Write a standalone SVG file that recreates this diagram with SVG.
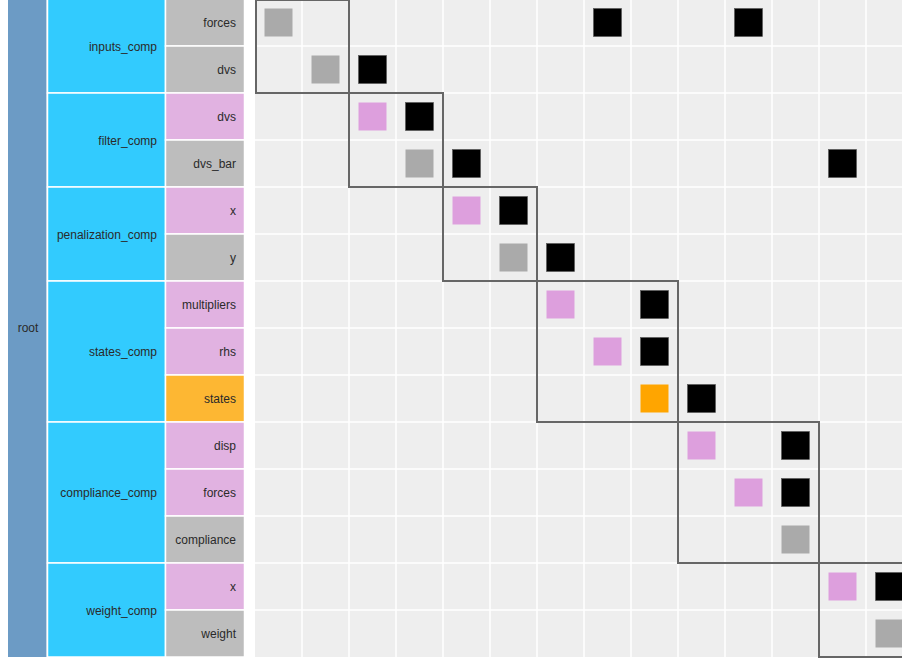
<svg xmlns="http://www.w3.org/2000/svg" width="902" height="659" viewBox="0 0 902 659">
<style>
text{font-family:"Liberation Sans",Arial,sans-serif;font-size:12px;fill:#2a2a2a}
.root{fill:#6c9bc5}
.comp{fill:#32cbfe;stroke:#ffffff;stroke-width:1.5}
.in{fill:#e1b2e1;stroke:#ffffff;stroke-width:1.5}
.out{fill:#bdbdbd;stroke:#ffffff;stroke-width:1.5}
.st{fill:#fdb733;stroke:#ffffff;stroke-width:1.5}
.cl{text-anchor:end}
.grid{stroke:#ffffff;stroke-width:1.5}
.box{fill:none;stroke:#666666;stroke-width:2}
.g{fill:#aaaaaa}
.p{fill:#dd9fdd}
.k{fill:#000000;stroke:#555555;stroke-width:0.6}
.o{fill:#ffa500}
</style>
<rect x="0" y="0" width="902" height="659" fill="#ffffff"/>
<g id="root">
<rect class="root" x="8" y="-1" width="38.5" height="658"/>
<text x="28" y="332" text-anchor="middle">root</text>
</g>
<g id="inputs_comp">
<rect class="comp" x="47.5" y="-1" width="118" height="94"/>
<text class="cl" x="157" y="50.5">inputs_comp</text>
</g>
<g id="filter_comp">
<rect class="comp" x="47.5" y="93" width="118" height="94"/>
<text class="cl" x="157" y="144.5">filter_comp</text>
</g>
<g id="penalization_comp">
<rect class="comp" x="47.5" y="187" width="118" height="94"/>
<text class="cl" x="157" y="238.5">penalization_comp</text>
</g>
<g id="states_comp">
<rect class="comp" x="47.5" y="281" width="118" height="141"/>
<text class="cl" x="157" y="356">states_comp</text>
</g>
<g id="compliance_comp">
<rect class="comp" x="47.5" y="422" width="118" height="141"/>
<text class="cl" x="157" y="497">compliance_comp</text>
</g>
<g id="weight_comp">
<rect class="comp" x="47.5" y="563" width="118" height="94"/>
<text class="cl" x="157" y="614.5">weight_comp</text>
</g>
<g id="inputs_comp.forces"><rect class="out" x="165.5" y="-1" width="79" height="47"/><text class="cl" x="236" y="27">forces</text></g>
<g id="inputs_comp.dvs"><rect class="out" x="165.5" y="46" width="79" height="47"/><text class="cl" x="236" y="74">dvs</text></g>
<g id="filter_comp.dvs"><rect class="in" x="165.5" y="93" width="79" height="47"/><text class="cl" x="236" y="121">dvs</text></g>
<g id="filter_comp.dvs_bar"><rect class="out" x="165.5" y="140" width="79" height="47"/><text class="cl" x="236" y="168">dvs_bar</text></g>
<g id="penalization_comp.x"><rect class="in" x="165.5" y="187" width="79" height="47"/><text class="cl" x="236" y="215">x</text></g>
<g id="penalization_comp.y"><rect class="out" x="165.5" y="234" width="79" height="47"/><text class="cl" x="236" y="262">y</text></g>
<g id="states_comp.multipliers"><rect class="in" x="165.5" y="281" width="79" height="47"/><text class="cl" x="236" y="309">multipliers</text></g>
<g id="states_comp.rhs"><rect class="in" x="165.5" y="328" width="79" height="47"/><text class="cl" x="236" y="356">rhs</text></g>
<g id="states_comp.states"><rect class="st" x="165.5" y="375" width="79" height="47"/><text class="cl" x="236" y="403">states</text></g>
<g id="compliance_comp.disp"><rect class="in" x="165.5" y="422" width="79" height="47"/><text class="cl" x="236" y="450">disp</text></g>
<g id="compliance_comp.forces"><rect class="in" x="165.5" y="469" width="79" height="47"/><text class="cl" x="236" y="497">forces</text></g>
<g id="compliance_comp.compliance"><rect class="out" x="165.5" y="516" width="79" height="47"/><text class="cl" x="236" y="544">compliance</text></g>
<g id="weight_comp.x"><rect class="in" x="165.5" y="563" width="79" height="47"/><text class="cl" x="236" y="591">x</text></g>
<g id="weight_comp.weight"><rect class="out" x="165.5" y="610" width="79" height="47"/><text class="cl" x="236" y="638">weight</text></g>
<g id="matrix">
<rect x="255" y="-1" width="647" height="658" fill="#eeeeee"/>
<g class="grid">
<line x1="302" y1="-1" x2="302" y2="657"/><line x1="349" y1="-1" x2="349" y2="657"/><line x1="396" y1="-1" x2="396" y2="657"/><line x1="443" y1="-1" x2="443" y2="657"/><line x1="490" y1="-1" x2="490" y2="657"/><line x1="537" y1="-1" x2="537" y2="657"/><line x1="584" y1="-1" x2="584" y2="657"/><line x1="631" y1="-1" x2="631" y2="657"/><line x1="678" y1="-1" x2="678" y2="657"/><line x1="725" y1="-1" x2="725" y2="657"/><line x1="772" y1="-1" x2="772" y2="657"/><line x1="819" y1="-1" x2="819" y2="657"/><line x1="866" y1="-1" x2="866" y2="657"/>
<line x1="255" y1="46" x2="902" y2="46"/><line x1="255" y1="93" x2="902" y2="93"/><line x1="255" y1="140" x2="902" y2="140"/><line x1="255" y1="187" x2="902" y2="187"/><line x1="255" y1="234" x2="902" y2="234"/><line x1="255" y1="281" x2="902" y2="281"/><line x1="255" y1="328" x2="902" y2="328"/><line x1="255" y1="375" x2="902" y2="375"/><line x1="255" y1="422" x2="902" y2="422"/><line x1="255" y1="469" x2="902" y2="469"/><line x1="255" y1="516" x2="902" y2="516"/><line x1="255" y1="563" x2="902" y2="563"/><line x1="255" y1="610" x2="902" y2="610"/>
</g>
</g>
<g id="connectors">
<rect class="g" x="264.5" y="8.5" width="28" height="28"/>
<rect class="k" x="593.5" y="8.5" width="28" height="28"/>
<rect class="k" x="734.5" y="8.5" width="28" height="28"/>
<rect class="g" x="311.5" y="55.5" width="28" height="28"/>
<rect class="k" x="358.5" y="55.5" width="28" height="28"/>
<rect class="p" x="358.5" y="102.5" width="28" height="28"/>
<rect class="k" x="405.5" y="102.5" width="28" height="28"/>
<rect class="g" x="405.5" y="149.5" width="28" height="28"/>
<rect class="k" x="452.5" y="149.5" width="28" height="28"/>
<rect class="k" x="828.5" y="149.5" width="28" height="28"/>
<rect class="p" x="452.5" y="196.5" width="28" height="28"/>
<rect class="k" x="499.5" y="196.5" width="28" height="28"/>
<rect class="g" x="499.5" y="243.5" width="28" height="28"/>
<rect class="k" x="546.5" y="243.5" width="28" height="28"/>
<rect class="p" x="546.5" y="290.5" width="28" height="28"/>
<rect class="k" x="640.5" y="290.5" width="28" height="28"/>
<rect class="p" x="593.5" y="337.5" width="28" height="28"/>
<rect class="k" x="640.5" y="337.5" width="28" height="28"/>
<rect class="o" x="640.5" y="384.5" width="28" height="28"/>
<rect class="k" x="687.5" y="384.5" width="28" height="28"/>
<rect class="p" x="687.5" y="431.5" width="28" height="28"/>
<rect class="k" x="781.5" y="431.5" width="28" height="28"/>
<rect class="p" x="734.5" y="478.5" width="28" height="28"/>
<rect class="k" x="781.5" y="478.5" width="28" height="28"/>
<rect class="g" x="781.5" y="525.5" width="28" height="28"/>
<rect class="p" x="828.5" y="572.5" width="28" height="28"/>
<rect class="k" x="875.5" y="572.5" width="28" height="28"/>
<rect class="g" x="875.5" y="619.5" width="28" height="28"/>
</g>
<g id="groups">
<rect class="box" x="256" y="0" width="93" height="93"/>
<rect class="box" x="349" y="93" width="94" height="94"/>
<rect class="box" x="443" y="187" width="94" height="94"/>
<rect class="box" x="537" y="281" width="141" height="141"/>
<rect class="box" x="678" y="422" width="141" height="141"/>
<rect class="box" x="819" y="563" width="94" height="94"/>
</g>
</svg>
